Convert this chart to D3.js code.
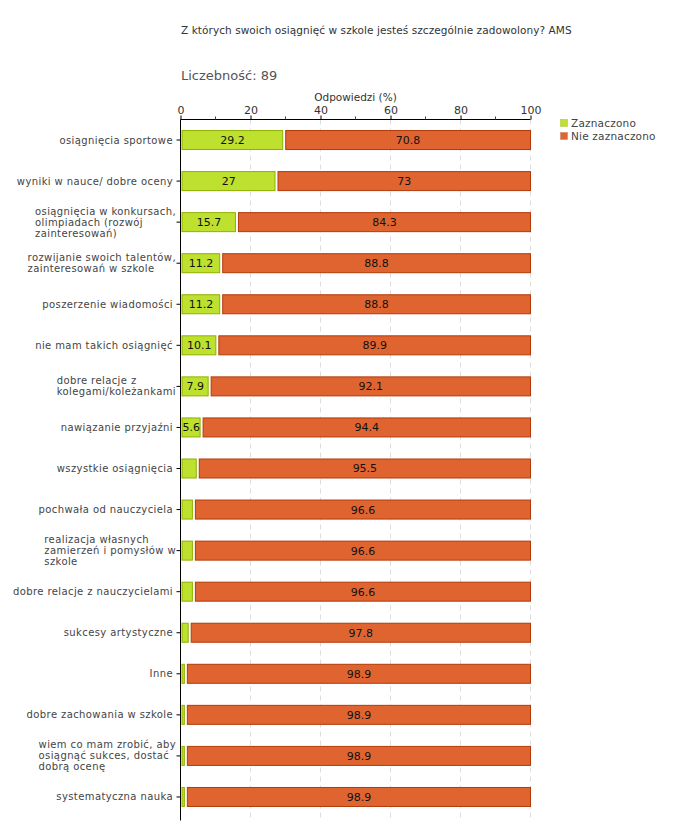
<!DOCTYPE html>
<html>
<head>
<meta charset="utf-8">
<script src="https://cdn.jsdelivr.net/npm/d3@7"></script>
<style>
  body { margin: 0; background: #fff; }
  svg { display: block; }
  text { font-family: "DejaVu Sans", Verdana, sans-serif; }
</style>
</head>
<body>
<svg id="chart" width="680" height="840"></svg>
<script>
const titleText = "Z których swoich osiągnięć w szkole jesteś szczególnie zadowolony? AMS";
const countText = "Liczebność: 89";
const axisTitle = "Odpowiedzi (%)";
const seriesNames = ["Zaznaczono", "Nie zaznaczono"];
const categories = [
  "osiągnięcia sportowe",
  "wyniki w nauce/ dobre oceny",
  "osiągnięcia w konkursach,\nolimpiadach (rozwój\nzainteresowań)",
  "rozwijanie swoich talentów,\nzainteresowań w szkole",
  "poszerzenie wiadomości",
  "nie mam takich osiągnięć",
  "dobre relacje z\nkolegami/koleżankami",
  "nawiązanie przyjaźni",
  "wszystkie osiągnięcia",
  "pochwała od nauczyciela",
  "realizacja własnych\nzamierzeń i pomysłów w\nszkole",
  "dobre relacje z nauczycielami",
  "sukcesy artystyczne",
  "Inne",
  "dobre zachowania w szkole",
  "wiem co mam zrobić, aby\nosiągnąć sukces, dostać\ndobrą ocenę",
  "systematyczna nauka"
];
const zaznaczono = [29.2, 27, 15.7, 11.2, 11.2, 10.1, 7.9, 5.6, 4.5, 3.4, 3.4, 3.4, 2.2, 1.1, 1.1, 1.1, 1.1];
const nieZaznaczono = [70.8, 73, 84.3, 88.8, 88.8, 89.9, 92.1, 94.4, 95.5, 96.6, 96.6, 96.6, 97.8, 98.9, 98.9, 98.9, 98.9];
const xTicks = [0, 20, 40, 60, 80, 100];
const xMinorTicks = [10, 30, 50, 70, 90];

const colors = {
  greenFill: "#bee02f", greenStroke: "#8fb000",
  orangeFill: "#e06430", orangeStroke: "#b23a0a"
};

const svg = d3.select("#chart");
const mLeft = 180.5, mRight = 530.5, mTop = 119.5, mBottom = 817.5;

const x = d3.scaleLinear().domain([0, 100]).range([mLeft, mRight]);
const y = d3.scaleBand().domain(categories).range([mTop, mBottom]);
const barH = 19;

// title texts
svg.append("text").attr("x", 181).attr("y", 34).attr("font-size", 10.5).attr("letter-spacing", 0.07)
  .attr("fill", "#333").text(titleText);
svg.append("text").attr("x", 181).attr("y", 80).attr("font-size", 13).attr("fill", "#555").text(countText);
svg.append("text").attr("x", (mLeft + mRight) / 2).attr("y", 101).attr("text-anchor", "middle")
  .attr("font-size", 10.5).attr("fill", "#333").text(axisTitle);

// gridlines
svg.append("g").selectAll("line").data(xTicks.filter(d => d > 0)).join("line")
  .attr("x1", d => x(d)).attr("x2", d => x(d))
  .attr("y1", mTop).attr("y2", mBottom)
  .attr("stroke", "#dddddd").attr("stroke-dasharray", "5,4");

// top axis
const xAxis = d3.axisTop(x).tickValues(xTicks).tickSize(4).tickPadding(2).tickFormat(d3.format("d"));
const gx = svg.append("g").attr("transform", `translate(0,${mTop})`).call(xAxis);
gx.select(".domain").attr("stroke", "#000").attr("d", `M${mLeft},0H${mRight}`);
gx.selectAll(".tick line").attr("stroke", "#000");
gx.selectAll(".tick text").attr("font-size", 11).attr("fill", "#333").attr("font-family", "DejaVu Sans, sans-serif");
svg.append("g").selectAll("line").data(xMinorTicks).join("line")
  .attr("x1", d => x(d)).attr("x2", d => x(d))
  .attr("y1", mTop - 3).attr("y2", mTop)
  .attr("stroke", "#e00000");

// left axis
const yAxis = d3.axisLeft(y).tickSize(4).tickFormat("");
const gy = svg.append("g").attr("transform", `translate(${mLeft},0)`).call(yAxis);
gy.select(".domain").attr("d", `M0,${mTop}V${mBottom + 3}`).attr("stroke", "#000");
gy.selectAll(".tick line").attr("stroke", "#000");

// category labels
const lineH = 11;
const labelG = svg.append("g");
categories.forEach(c => {
  const lines = c.split("\n");
  const cy = y(c) + y.bandwidth() / 2;
  const t = labelG.append("text").attr("font-size", 10).attr("letter-spacing", 0.4).attr("fill", "#444");
  lines.forEach((ln, i) => {
    t.append("tspan").attr("x", 0).attr("y", cy + (i - (lines.length - 1) / 2) * lineH).attr("dy", "0.35em").text(ln);
  });
  const w = t.node().getBBox().width;
  const rightEdge = lines.length > 1 ? 176 : 173;
  t.selectAll("tspan").attr("x", rightEdge - w);
});

// bars
const rows = categories.map((c, i) => ({ c, a: zaznaczono[i], b: nieZaznaczono[i] }));
const barsG = svg.append("g");
barsG.selectAll("rect.g").data(rows).join("rect")
  .attr("x", x(0) + 1.5)
  .attr("y", d => y(d.c) + (y.bandwidth() - barH) / 2)
  .attr("width", d => Math.max(0.5, x(d.a) - x(0) - 1.5))
  .attr("height", barH)
  .attr("fill", colors.greenFill).attr("stroke", colors.greenStroke).attr("stroke-width", 1);
barsG.selectAll("rect.o").data(rows).join("rect")
  .attr("x", d => x(d.a) + 3)
  .attr("y", d => y(d.c) + (y.bandwidth() - barH) / 2)
  .attr("width", d => x(100) - x(d.a) - 3)
  .attr("height", barH)
  .attr("fill", colors.orangeFill).attr("stroke", colors.orangeStroke).attr("stroke-width", 1);

// value labels
const fmt = v => String(v);
barsG.selectAll("text.g").data(rows.filter(d => d.a >= 5)).join("text")
  .attr("x", d => (x(0) + x(d.a)) / 2 + 1)
  .attr("y", d => y(d.c) + y.bandwidth() / 2).attr("dy", "0.36em")
  .attr("text-anchor", "middle").attr("font-size", 11).attr("fill", "#111")
  .text(d => fmt(d.a));
barsG.selectAll("text.o").data(rows).join("text")
  .attr("x", d => (x(d.a) + 3 + x(100)) / 2)
  .attr("y", d => y(d.c) + y.bandwidth() / 2).attr("dy", "0.36em")
  .attr("text-anchor", "middle").attr("font-size", 11).attr("fill", "#111")
  .text(d => fmt(d.b));

// legend
const lg = svg.append("g");
[colors.greenFill, colors.orangeFill].forEach((col, i) => {
  lg.append("rect").attr("x", 560.5).attr("y", 119.5 + i * 13).attr("width", 7).attr("height", 7)
    .attr("fill", col).attr("stroke", i ? "#c08060" : "#a0c040").attr("stroke-width", 0.5);
  lg.append("text").attr("x", 571).attr("y", 123 + i * 13).attr("dy", "0.35em")
    .attr("font-size", 10.5).attr("letter-spacing", 0.2).attr("fill", "#444").text(seriesNames[i]);
});
</script>
</body>
</html>
